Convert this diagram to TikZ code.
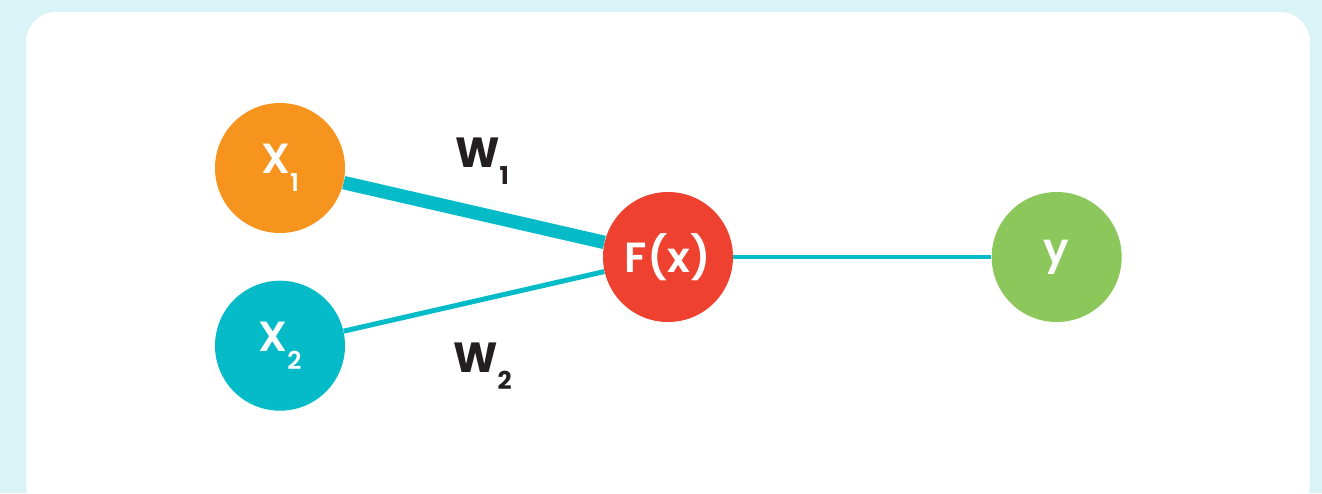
\documentclass[tikz,border=0pt]{standalone}
\usepackage{fontspec}
\setmainfont{Poppins}
\newfontfamily\nodefont{Poppins SemiBold}
\usetikzlibrary{positioning}

\definecolor{bgcyan}{HTML}{D9F3F6}
\definecolor{nodeorange}{HTML}{F7941D}
\definecolor{nodecyan}{HTML}{05BBC8}
\definecolor{nodered}{HTML}{EF4130}
\definecolor{nodegreen}{HTML}{8BC75A}
\definecolor{labeldark}{HTML}{231F20}

\newcommand{\subidx}[1]{\raisebox{-0.42em}{\fontsize{14}{16}\selectfont #1}}

\begin{document}
\begin{tikzpicture}[
    neuron/.style={circle, minimum size=2.6cm, inner sep=0pt, text=white, font=\fontsize{24}{28}\nodefont},
    link/.style={draw=nodecyan, line width=0.1cm},
    weight/.style={text=labeldark, anchor=base west, inner sep=0pt, font=\fontsize{24}{28}\selectfont\bfseries}
  ]
    % background and white panel
    \fill[bgcyan] (0,0) rectangle (26.44,-9.86);
    \useasboundingbox (0,0) rectangle (26.44,-9.86);
    \fill[white, rounded corners=0.6cm] (0.52,-0.24) rectangle (26.2,-10.3);

    \node[neuron, fill=nodeorange] (x1) at (5.6,-3.36) {X\subidx{1}};
    \node[neuron, fill=nodecyan, below=0.94cm of x1] (x2) {X\subidx{2}};
    \node[neuron, fill=nodered] (fx) at (13.36,-5.14) {F(x)};
    \node[neuron, fill=nodegreen, right=5.16cm of fx] (out) {y};

    \draw[link, line width=0.27cm] (x1) -- (fx);
    \draw[link] (x2) -- (fx);
    \draw[link, line width=0.08cm] (fx) -- (out);

    \node[weight] (w1) at (9.1,-3.34) {W\subidx{1}};
    \node[weight] (w2) at (9.06,-7.44) {W\subidx{2}};
  \end{tikzpicture}
\end{document}
